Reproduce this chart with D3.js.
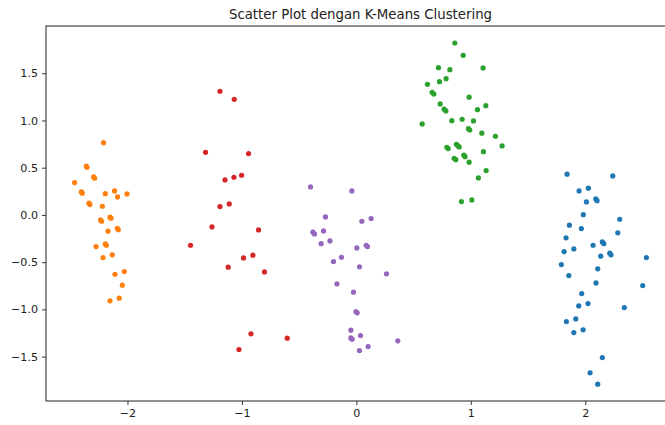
<!DOCTYPE html>
<html>
<head>
<meta charset="utf-8">
<script src="https://cdn.jsdelivr.net/npm/d3@7"></script>
<style>
  body { margin: 0; background: #fff; }
  svg { display: block; font-family: "DejaVu Sans", sans-serif; }
</style>
</head>
<body>
<div id="chart"></div>
<script>
// ---------------------------
// Data (one array per cluster, [x, y])
// ---------------------------
const clusterBlue = [
  [1.841, 0.431], [2.240, 0.413], [1.946, 0.254], [2.027, 0.283], [2.010, 0.138],
  [2.092, 0.169], [2.103, 0.151], [1.983, 0.003], [2.301, -0.046], [1.861, -0.109],
  [1.966, -0.145], [2.284, -0.190], [1.832, -0.243], [2.068, -0.321], [2.149, -0.286],
  [2.162, -0.304], [1.815, -0.388], [1.900, -0.360], [2.135, -0.437], [2.214, -0.405],
  [2.225, -0.423], [2.534, -0.452], [1.791, -0.526], [2.109, -0.571], [1.856, -0.642],
  [2.502, -0.748], [2.094, -0.720], [1.969, -0.833], [1.943, -0.963], [2.024, -0.939],
  [2.341, -0.981], [1.835, -1.129], [1.917, -1.101], [1.900, -1.246], [1.981, -1.217],
  [2.149, -1.510], [2.042, -1.672], [2.109, -1.792]
];

const clusterOrange = [
  [-2.209, 0.765], [-2.360, 0.517], [-2.354, 0.505], [-2.296, 0.402], [-2.287, 0.388],
  [-2.462, 0.342], [-2.403, 0.243], [-2.395, 0.230], [-2.194, 0.225], [-2.113, 0.254],
  [-2.087, 0.190], [-2.004, 0.222], [-2.336, 0.124], [-2.328, 0.109], [-2.220, 0.092],
  [-2.235, -0.053], [-2.226, -0.067], [-2.153, -0.024], [-2.144, -0.035], [-2.170, -0.172],
  [-2.089, -0.141], [-2.080, -0.156], [-2.275, -0.335], [-2.194, -0.307], [-2.185, -0.321],
  [-2.133, -0.423], [-2.214, -0.452], [-2.028, -0.600], [-2.109, -0.628], [-2.045, -0.744],
  [-2.072, -0.881], [-2.153, -0.910]
];

const clusterGreen = [
  [0.860, 1.820], [0.933, 1.690], [0.717, 1.559], [0.817, 1.538], [1.107, 1.556],
  [0.621, 1.383], [0.726, 1.411], [0.784, 1.442], [0.662, 1.298], [0.677, 1.280],
  [0.985, 1.246], [0.732, 1.175], [0.767, 1.119], [0.782, 1.101], [1.058, 1.114],
  [1.131, 1.157], [0.575, 0.963], [0.834, 0.998], [0.924, 1.013], [1.023, 0.995],
  [0.979, 0.913], [0.991, 0.899], [1.096, 0.865], [1.215, 0.833], [1.273, 0.730],
  [0.790, 0.716], [0.802, 0.702], [0.874, 0.748], [0.886, 0.733], [0.898, 0.720],
  [1.110, 0.670], [0.939, 0.632], [0.950, 0.617], [0.854, 0.600], [0.869, 0.585],
  [0.985, 0.558], [1.134, 0.469], [1.066, 0.392], [0.918, 0.141], [1.009, 0.159]
];

const clusterRed = [
  [-1.192, 1.309], [-1.067, 1.224], [-1.318, 0.663], [-0.942, 0.649], [-1.148, 0.370],
  [-1.070, 0.399], [-1.003, 0.420], [-1.192, 0.088], [-1.111, 0.116], [-1.262, -0.127],
  [-0.855, -0.159], [-1.449, -0.321], [-0.986, -0.455], [-0.904, -0.426], [-1.120, -0.553],
  [-0.803, -0.603], [-0.921, -1.259], [-0.604, -1.305], [-1.026, -1.425]
];

const clusterPurple = [
  [-0.401, 0.296], [-0.039, 0.254], [-0.270, -0.021], [0.048, -0.067], [0.129, -0.039],
  [-0.380, -0.183], [-0.366, -0.201], [-0.287, -0.169], [-0.308, -0.304], [-0.231, -0.275],
  [0.004, -0.349], [0.086, -0.321], [0.097, -0.335], [-0.130, -0.448], [-0.200, -0.494],
  [0.027, -0.550], [0.263, -0.624], [-0.170, -0.730], [-0.025, -0.818], [-0.004, -1.023],
  [0.007, -1.037], [-0.048, -1.220], [-0.048, -1.302], [-0.037, -1.315], [0.036, -1.277],
  [0.362, -1.333], [0.103, -1.394], [0.027, -1.436]
];

const xTicks = [-2, -1, 0, 1, 2];
const yTicks = [-1.5, -1.0, -0.5, 0.0, 0.5, 1.0, 1.5];
const titleText = "Scatter Plot dengan K-Means Clustering";

// ---------------------------
// Layout
// ---------------------------
const width = 665;
const height = 425;
const margin = { top: 26, right: -10, bottom: 24, left: 46 };

const svg = d3.select("#chart")
  .append("svg")
  .attr("width", width)
  .attr("height", height);

const x = d3.scaleLinear()
  .domain([-2.712, 2.784])
  .range([margin.left, width - margin.right]);

const y = d3.scaleLinear()
  .domain([-1.97, 2.0])
  .range([height - margin.bottom, margin.top]);

// ---------------------------
// Points
// ---------------------------
const groups = [
  { pts: clusterBlue, color: "#1f77b4" },
  { pts: clusterOrange, color: "#ff7f0e" },
  { pts: clusterGreen, color: "#2ca02c" },
  { pts: clusterRed, color: "#d62728" },
  { pts: clusterPurple, color: "#9467bd" }
];

groups.forEach(g => {
  svg.append("g")
    .selectAll("circle")
    .data(g.pts)
    .join("circle")
    .attr("cx", d => x(d[0]))
    .attr("cy", d => y(d[1]))
    .attr("r", 2.6)
    .attr("fill", g.color);
});

// ---------------------------
// Axes
// ---------------------------
const xAxis = svg.append("g")
  .attr("transform", `translate(0,${height - margin.bottom})`)
  .call(d3.axisBottom(x)
    .tickValues(xTicks)
    .tickFormat(d3.format("d"))
    .tickSize(4)
    .tickPadding(4));

const yAxis = svg.append("g")
  .attr("transform", `translate(${margin.left},0)`)
  .call(d3.axisLeft(y)
    .tickValues(yTicks)
    .tickFormat(d3.format(".1f"))
    .tickSize(4)
    .tickPadding(4));

[xAxis, yAxis].forEach(ax => {
  ax.select(".domain").remove();
  ax.selectAll("line").attr("stroke", "#222").attr("stroke-width", 0.9);
  ax.selectAll("text")
    .attr("fill", "#222")
    .attr("font-size", 11.1)
    .attr("font-family", "DejaVu Sans, sans-serif");
});

// frame (right spine falls outside the picture)
svg.append("rect")
  .attr("x", margin.left)
  .attr("y", margin.top)
  .attr("width", x.range()[1] - margin.left)
  .attr("height", height - margin.bottom - margin.top)
  .attr("fill", "none")
  .attr("stroke", "#222")
  .attr("stroke-width", 1);

// ---------------------------
// Title
// ---------------------------
svg.append("text")
  .attr("x", (x.range()[0] + x.range()[1]) / 2)
  .attr("y", margin.top - 7)
  .attr("text-anchor", "middle")
  .attr("font-size", 13.3)
  .attr("fill", "#222")
  .text(titleText);
</script>
</body>
</html>
